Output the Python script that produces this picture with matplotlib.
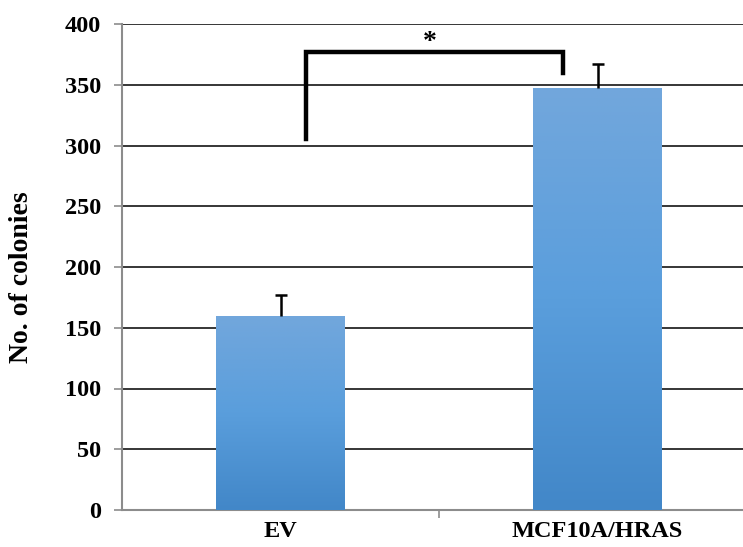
import matplotlib
matplotlib.use("Agg")
import matplotlib.pyplot as plt
import numpy as np
from matplotlib.colors import LinearSegmentedColormap

categories = ["EV", "MCF10A/HRAS"]
values = [160, 347]
errors = [17, 20]
yticks = [0, 50, 100, 150, 200, 250, 300, 350, 400]
bracket_left = (0.08, 305, 377)   # x, y bottom, y top
bracket_right = (0.89, 360, 377)
star_label = "*"

plt.rcParams['font.family'] = ['Liberation Serif', 'DejaVu Serif']

fig = plt.figure(figsize=(7.43, 5.47), dpi=100)
ax = fig.add_axes([122/743, 37/547, 1 - 122/743, 486/547])

x = np.arange(len(categories))
bars = ax.bar(x, values, width=0.404, color='#5b9bd5', zorder=3)

cmap = LinearSegmentedColormap.from_list('g', ['#4287c8', '#5a9edc', '#72a7dc'])
grad = np.linspace(0, 1, 256).reshape(-1, 1)
for b in bars:
    bx, by, bw, bh = b.get_x(), b.get_y(), b.get_width(), b.get_height()
    im = ax.imshow(grad, cmap=cmap, aspect='auto', origin='lower',
                   extent=[bx, bx + bw, by, by + bh], zorder=3.1)
    im.set_clip_path(b)

eb = ax.errorbar(x, values, yerr=[np.zeros(len(values)), errors], fmt='none',
                 ecolor='black', elinewidth=1.8, capsize=4.3, capthick=1.8, zorder=4)
# keep only the upper caps
caplines = eb[1]
if len(caplines) == 2:
    caplines[0].set_visible(False)

ax.set_xlim(-0.5, -0.5 + 621/317)
ax.set_ylim(0, 400)
ax.set_yticks(yticks)
ax.set_yticklabels([str(t) for t in yticks], fontsize=17.5, fontweight='bold')
ax.yaxis.grid(True, color='black', linewidth=1.1, zorder=0)
ax.set_axisbelow(True)
ax.tick_params(axis='y', length=6, color='#8c8c8c', width=1.2, pad=9)

ax.set_xticks(x)
ax.set_xticklabels(categories, fontsize=17.5, fontweight='bold')
ax.tick_params(axis='x', length=0, pad=8)
ax.set_xticks([0.5], minor=True)
ax.tick_params(axis='x', which='minor', length=6, color='#8c8c8c', width=1.2)

for s in ['top', 'right']:
    ax.spines[s].set_visible(False)
for s in ['left', 'bottom']:
    ax.spines[s].set_color('#8c8c8c')
    ax.spines[s].set_linewidth(1.5)

ax.set_ylabel("No. of colonies", fontsize=20, fontweight='bold')
ax.yaxis.set_label_coords(-0.141, 0.48)

# significance bracket
ax.plot([bracket_left[0], bracket_left[0], bracket_right[0], bracket_right[0]],
        [bracket_left[1], bracket_left[2], bracket_right[2], bracket_right[1]],
        color='black', linewidth=3.2, solid_joinstyle='miter', zorder=5, clip_on=False)
ax.text((bracket_left[0] + bracket_right[0]) / 2 - 0.015, 374.5, star_label,
        ha='center', va='bottom', fontsize=20, fontweight='bold', zorder=5)

fig.savefig("out.png", dpi=100)
